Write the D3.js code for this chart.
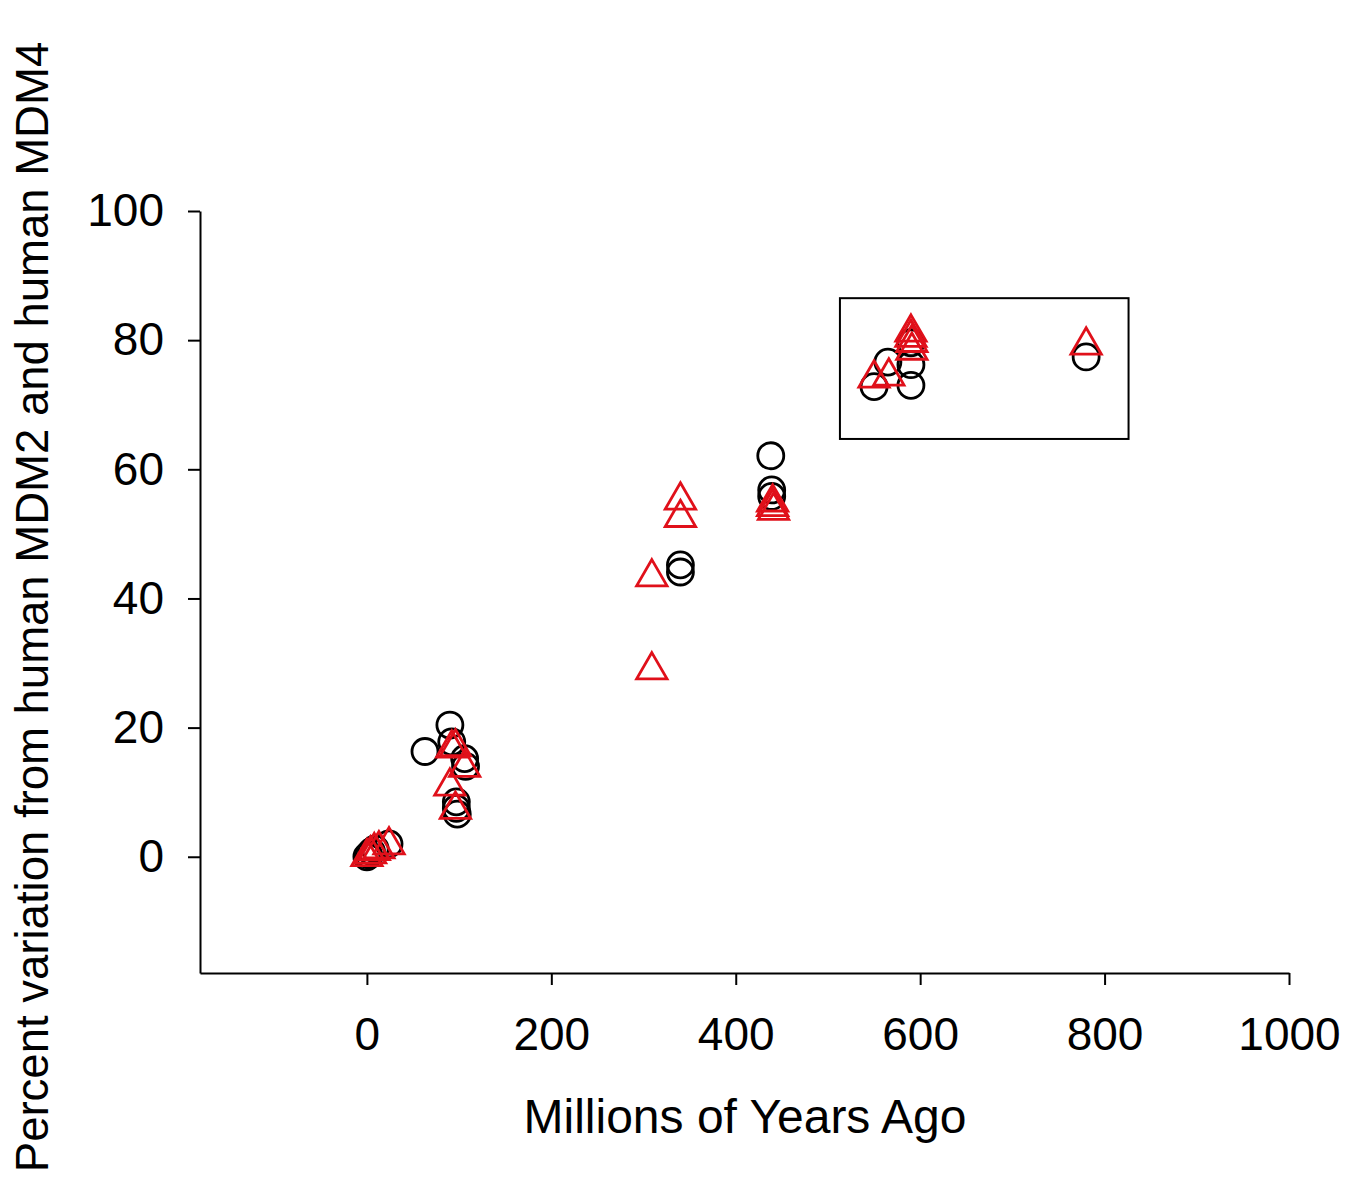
<!DOCTYPE html>
<html>
<head>
<meta charset="utf-8">
<script src="https://cdn.jsdelivr.net/npm/d3@7"></script>
<style>
  body { margin: 0; background: #fff; }
  text { font-family: "Liberation Sans", Arial, sans-serif; fill: #000; }
</style>
</head>
<body>
<div class="chart"></div>
<script>
// MDM2 points (open circles)
var mdm2 = [
  { "mya": 0, "pct": 0 }, { "mya": 2, "pct": 0.3 }, { "mya": 5, "pct": 0.8 },
  { "mya": 9, "pct": 1.2 }, { "mya": 24, "pct": 2 },
  { "mya": 63, "pct": 16.3 }, { "mya": 90, "pct": 20.4 }, { "mya": 92, "pct": 17.8 },
  { "mya": 106, "pct": 15.2 }, { "mya": 107, "pct": 14 }, { "mya": 97, "pct": 8.5 },
  { "mya": 97, "pct": 7.5 }, { "mya": 98, "pct": 6.6 },
  { "mya": 340, "pct": 45.2 }, { "mya": 340, "pct": 44.1 },
  { "mya": 438, "pct": 62.1 }, { "mya": 439, "pct": 56.8 }, { "mya": 439, "pct": 55.8 },
  { "mya": 550, "pct": 72.8 }, { "mya": 565, "pct": 76.6 }, { "mya": 590, "pct": 73 },
  { "mya": 590, "pct": 76.2 }, { "mya": 590, "pct": 79.6 }, { "mya": 780, "pct": 77.4 }
];

// MDM4 points (open triangles)
var mdm4 = [
  { "mya": 0, "pct": 0 }, { "mya": 4, "pct": 0.4 }, { "mya": 8, "pct": 0.9 },
  { "mya": 13, "pct": 1.2 }, { "mya": 24, "pct": 1.8 },
  { "mya": 92, "pct": 16.8 }, { "mya": 96, "pct": 17 }, { "mya": 106, "pct": 13.8 },
  { "mya": 90, "pct": 10.9 }, { "mya": 96, "pct": 7.3 },
  { "mya": 309, "pct": 43.3 }, { "mya": 309, "pct": 28.9 },
  { "mya": 340, "pct": 55.2 }, { "mya": 340, "pct": 52.5 },
  { "mya": 440, "pct": 54.9 }, { "mya": 440, "pct": 54.2 }, { "mya": 441, "pct": 53.6 },
  { "mya": 550, "pct": 74.1 }, { "mya": 566, "pct": 74.4 },
  { "mya": 590, "pct": 81.2 }, { "mya": 590, "pct": 80.4 }, { "mya": 591, "pct": 79.6 },
  { "mya": 591, "pct": 78.4 }, { "mya": 780, "pct": 79.2 }
];

var xTicks = [0, 200, 400, 600, 800, 1000];
var yTicks = [0, 20, 40, 60, 80, 100];

// highlight box around the oldest group (data units)
var boxX = [513, 826];
var boxY = [64.7, 86.5];

var red = "#e0101a";

const svg = d3.select(".chart").append("svg")
  .attr("width", 1360)
  .attr("height", 1180);

const x = d3.scaleLinear().domain([-181, 1000]).range([200, 1289]);
const y = d3.scaleLinear().domain([-18, 100]).range([973, 211]);

// axes
const xAxis = svg.append("g")
  .attr("transform", "translate(0,973)")
  .call(d3.axisBottom(x).tickValues(xTicks).tickFormat(d3.format("d"))
    .tickSize(12).tickPadding(32).tickSizeOuter(0));
xAxis.select(".domain").attr("stroke", "#000").attr("stroke-width", 2);
xAxis.selectAll(".tick line").attr("stroke", "#000").attr("stroke-width", 2);
xAxis.selectAll("text").attr("font-size", 46).attr("fill", "#000")
  .style("font-family", "'Liberation Sans', Arial, sans-serif");

const yAxis = svg.append("g")
  .attr("transform", "translate(200,0)")
  .call(d3.axisLeft(y).tickValues(yTicks).tickFormat(d3.format("d"))
    .tickSize(12).tickPadding(24).tickSizeOuter(0));
yAxis.select(".domain").attr("stroke", "#000").attr("stroke-width", 2);
yAxis.selectAll(".tick line").attr("stroke", "#000").attr("stroke-width", 2);
yAxis.selectAll("text").attr("font-size", 46).attr("fill", "#000")
  .style("font-family", "'Liberation Sans', Arial, sans-serif");

// axis titles
svg.append("text")
  .attr("x", 745).attr("y", 1133)
  .attr("text-anchor", "middle")
  .attr("font-size", 48)
  .text("Millions of Years Ago");

svg.append("text")
  .attr("transform", "translate(48,607) rotate(-90)")
  .attr("text-anchor", "middle")
  .attr("font-size", 45.5)
  .text("Percent variation from human MDM2 and human MDM4");

// box
svg.append("rect")
  .attr("x", x(boxX[0]))
  .attr("y", y(boxY[1]))
  .attr("width", x(boxX[1]) - x(boxX[0]))
  .attr("height", y(boxY[0]) - y(boxY[1]))
  .attr("fill", "none")
  .attr("stroke", "#000")
  .attr("stroke-width", 2);

// circles
svg.append("g").selectAll("circle")
  .data(mdm2)
  .enter().append("circle")
  .attr("cx", function (d) { return x(d.mya); })
  .attr("cy", function (d) { return y(d.pct); })
  .attr("r", 13)
  .attr("fill", "none")
  .attr("stroke", "#000")
  .attr("stroke-width", 2.8);

// triangles
const tri = d3.symbol().type(d3.symbolTriangle).size(400);
svg.append("g").selectAll("path")
  .data(mdm4)
  .enter().append("path")
  .attr("d", tri)
  .attr("transform", function (d) {
    return "translate(" + x(d.mya) + "," + y(d.pct) + ")";
  })
  .attr("fill", "none")
  .attr("stroke", red)
  .attr("stroke-width", 2.8);
</script>
</body>
</html>
